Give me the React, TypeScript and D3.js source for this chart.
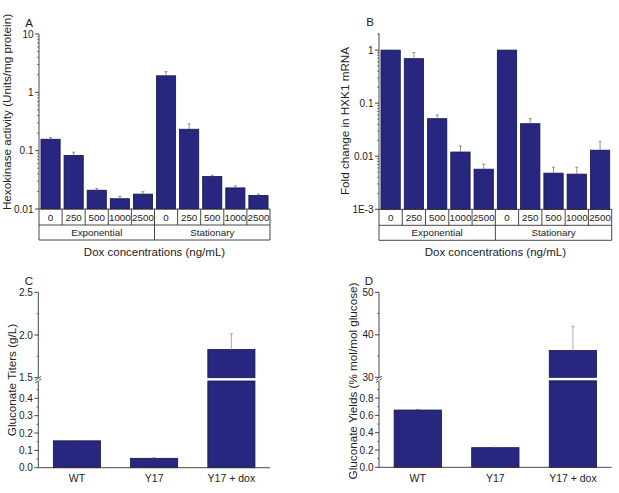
import React from "react";
import * as d3 from "d3";

// ---------- DATA ----------
const doxLabels = ["0", "250", "500", "1000", "2500"];
const phases = ["Exponential", "Stationary"];
const hexokinase = [0.157, 0.083, 0.021, 0.015, 0.018, 1.92, 0.233, 0.036, 0.023, 0.017];
const hexokinaseErrTop = [0.168, 0.094, 0.0225, 0.0165, 0.0198, 2.26, 0.287, 0.038, 0.025, 0.018];
const hxk1 = [1.0, 0.69, 0.051, 0.012, 0.0057, 1.0, 0.041, 0.0048, 0.0046, 0.013];
const hxk1ErrTop = [1.0, 0.9, 0.06, 0.0156, 0.0071, 1.0, 0.051, 0.0062, 0.0062, 0.0192];
const strains = ["WT", "Y17", "Y17 + dox"];
const titers = [0.155, 0.054, 1.83];
const titersErrTop = [0.157, 0.057, 2.015];
const yields = [0.662, 0.227, 36.3];
const yieldsErrTop = [0.668, 0.232, 42];
const aTicks = [0.01, 0.1, 1, 10];
const bTicks = [0.001, 0.01, 0.1, 1];
const cLowTicks = [0, 0.1, 0.2, 0.3, 0.4];
const cHighTicks = [1.5, 2.0, 2.5];
const dLowTicks = [0, 0.2, 0.4, 0.6, 0.8];
const dHighTicks = [30, 40, 50];

const FILL = "#27277f";
const STROKE = "#15154e";
const TXT = "#222";
const AX = "#333";
const FONT = "'Liberation Sans', Arial, sans-serif";

const cats = phases.flatMap((p) => doxLabels.map((d) => `${p}-${d}`));

function LogPanel({
  x0, x1, yTop, yBottom, domain, values, errs, ticks, tickFmt, label, letter, letterX, ylabX, ylabY,
}: any) {
  const y = d3.scaleLog().domain(domain).range([yBottom, yTop]);
  const x = d3.scaleBand().domain(cats).range([x0, x1]).paddingInner(0.17).paddingOuter(0.085);
  const xb = d3.scaleBand().domain(cats).range([x0, x1]);
  const minor: number[] = [];
  const lo = Math.floor(Math.log10(domain[0]));
  const hi = Math.ceil(Math.log10(domain[1]));
  for (let e = lo; e < hi; e++) {
    for (let m = 2; m <= 9; m++) {
      const v = m * Math.pow(10, e);
      if (v >= domain[0] && v <= domain[1]) minor.push(v);
    }
  }
  const row1 = yBottom;
  const row2 = yBottom + 16;
  const row3 = yBottom + 31;
  const mid = (x0 + x1) / 2;
  return (
    <g fontFamily={FONT} fill={TXT}>
      {cats.map((c, i) => (
        <g key={c}>
          <rect x={x(c)} y={y(values[i])} width={x.bandwidth()} height={yBottom - y(values[i])}
            fill={FILL} stroke={STROKE} strokeWidth={0.8} />
          {errs[i] > values[i] && (
            <g stroke="#666" strokeWidth={0.7}>
              <line x1={x(c)! + x.bandwidth() / 2} x2={x(c)! + x.bandwidth() / 2} y1={y(values[i])} y2={y(errs[i])} />
              <line x1={x(c)! + x.bandwidth() / 2 - 1.5} x2={x(c)! + x.bandwidth() / 2 + 1.5} y1={y(errs[i])} y2={y(errs[i])} />
            </g>
          )}
        </g>
      ))}
      {/* y axis */}
      <line x1={x0} x2={x0} y1={yTop} y2={yBottom} stroke={AX} strokeWidth={0.9} />
      {ticks.map((t: number) => (
        <g key={t}>
          <line x1={x0 - 4} x2={x0} y1={y(t)} y2={y(t)} stroke={AX} strokeWidth={0.9} />
          <text x={x0 - 5.5} y={y(t)} dy="0.35em" textAnchor="end" fontSize={10}>{tickFmt(t)}</text>
        </g>
      ))}
      {minor.map((t) => (
        <line key={t} x1={x0 - 2} x2={x0} y1={y(t)} y2={y(t)} stroke={AX} strokeWidth={0.6} />
      ))}
      {/* category table */}
      <g stroke={AX} strokeWidth={0.9} fill="none">
        <line x1={x0} x2={x1} y1={row1} y2={row1} />
        <line x1={x0} x2={x1} y1={row2} y2={row2} />
        <line x1={x0} x2={x1} y1={row3} y2={row3} />
        {cats.map((c) => (
          <line key={c} x1={xb(c)} x2={xb(c)} y1={row1} y2={row2} />
        ))}
        <line x1={x1} x2={x1} y1={row1} y2={row3} />
        <line x1={x0} x2={x0} y1={row2} y2={row3} />
        <line x1={mid} x2={mid} y1={row2} y2={row3} />
      </g>
      {cats.map((c, i) => (
        <text key={c} x={xb(c)! + xb.bandwidth() / 2} y={(row1 + row2) / 2} dy="0.36em"
          textAnchor="middle" fontSize={9.8}>{doxLabels[i % 5]}</text>
      ))}
      {phases.map((p, i) => (
        <text key={p} x={x0 + (x1 - x0) * (i * 2 + 1) / 4} y={(row2 + row3) / 2} dy="0.36em"
          textAnchor="middle" fontSize={9.8}>{p}</text>
      ))}
      <text x={mid} y={row3 + 12} dy="0.36em" textAnchor="middle" fontSize={11.5}>Dox concentrations (ng/mL)</text>
      <text transform={`translate(${ylabX},${ylabY}) rotate(-90)`} textAnchor="middle"
        dy="0.36em" fontSize={11.7}>{label}</text>
      <text x={letterX} y={yTop - 11.5} dy="0.36em" textAnchor="middle" fontSize={11.5}>{letter}</text>
    </g>
  );
}

function BreakPanel({
  x0, x1, yZero, lowTopY, highBotY, yTop, lowDomain, highDomain, lowTicks, highTicks, lowMinor, highMinor,
  values, errs, label, letter, letterX, ylabX, ylabY, fmtLow, fmtHigh,
}: any) {
  const yl = d3.scaleLinear().domain(lowDomain).range([yZero, lowTopY]);
  const yh = d3.scaleLinear().domain(highDomain).range([highBotY, yTop]);
  const x = d3.scaleBand().domain(strains).range([x0, x1]).paddingInner(0.39).paddingOuter(0.195);
  const xb = d3.scaleBand().domain(strains).range([x0, x1]);
  const lowMinorVals = d3.range(lowDomain[0] + lowMinor, lowDomain[1] + 1e-9, lowMinor * 2);
  const highMinorVals = d3.range(highDomain[0] + highMinor, highDomain[1], highMinor * 2);
  const breakY = (lowTopY + highBotY) / 2;
  return (
    <g fontFamily={FONT} fill={TXT}>
      {strains.map((s, i) => {
        const v = values[i];
        const bx = x(s)!;
        const bw = x.bandwidth();
        const cx = bx + bw / 2;
        if (v <= lowDomain[1]) {
          const ey = yl(errs[i]);
          return (
            <g key={s}>
              <rect x={bx} y={yl(v)} width={bw} height={yZero - yl(v)} fill={FILL} stroke={STROKE} strokeWidth={0.8} />
              {errs[i] > v && (
                <g stroke="#666" strokeWidth={0.7}>
                  <line x1={cx} x2={cx} y1={yl(v)} y2={ey} />
                  <line x1={cx - 1.5} x2={cx + 1.5} y1={ey} y2={ey} />
                </g>
              )}
            </g>
          );
        }
        const ey = yh(errs[i]);
        return (
          <g key={s}>
            <rect x={bx} y={lowTopY} width={bw} height={yZero - lowTopY} fill={FILL} stroke={STROKE} strokeWidth={0.8} />
            <rect x={bx} y={yh(v)} width={bw} height={highBotY - yh(v)} fill={FILL} stroke={STROKE} strokeWidth={0.8} />
            <g stroke="#888" strokeWidth={0.7}>
              <line x1={cx} x2={cx} y1={yh(v)} y2={ey} />
              <line x1={cx - 1.5} x2={cx + 1.5} y1={ey} y2={ey} />
            </g>
          </g>
        );
      })}
      {/* axes */}
      <g stroke={AX} strokeWidth={0.9}>
        <line x1={x0} x2={x0} y1={yZero} y2={lowTopY} />
        <line x1={x0} x2={x0} y1={highBotY} y2={yTop} />
        <line x1={x0} x2={x1} y1={yZero} y2={yZero} />
        <line x1={x0 - 3} x2={x0 + 3} y1={breakY + 1} y2={breakY - 3} />
        <line x1={x0 - 3} x2={x0 + 3} y1={breakY + 3.5} y2={breakY - 0.5} />
      </g>
      <rect x={x0 - 0.6} y={breakY - 0.7} width={1.2} height={2.4} fill="#fff" />
      {lowTicks.map((t: number) => (
        <g key={t}>
          <line x1={x0 - 4} x2={x0} y1={yl(t)} y2={yl(t)} stroke={AX} strokeWidth={0.9} />
          <text x={x0 - 5.5} y={yl(t)} dy="0.35em" textAnchor="end" fontSize={10}>{fmtLow(t)}</text>
        </g>
      ))}
      {highTicks.map((t: number) => (
        <g key={t}>
          <line x1={x0 - 4} x2={x0} y1={yh(t)} y2={yh(t)} stroke={AX} strokeWidth={0.9} />
          <text x={x0 - 5.5} y={yh(t)} dy="0.35em" textAnchor="end" fontSize={10}>{fmtHigh(t)}</text>
        </g>
      ))}
      {lowMinorVals.map((t: number) => (
        <line key={"l" + t} x1={x0 - 2} x2={x0} y1={yl(t)} y2={yl(t)} stroke={AX} strokeWidth={0.6} />
      ))}
      {highMinorVals.map((t: number) => (
        <line key={"h" + t} x1={x0 - 2} x2={x0} y1={yh(t)} y2={yh(t)} stroke={AX} strokeWidth={0.6} />
      ))}
      {strains.map((s) => (
        <text key={s} x={xb(s)! + xb.bandwidth() / 2} y={yZero + 11} dy="0.36em" textAnchor="middle" fontSize={10.5}>{s}</text>
      ))}
      <text transform={`translate(${ylabX},${ylabY}) rotate(-90)`} textAnchor="middle"
        dy="0.36em" fontSize={11.7}>{label}</text>
      <text x={letterX} y={yTop - 11.5} dy="0.36em" textAnchor="middle" fontSize={11.5}>{letter}</text>
    </g>
  );
}

export default function App() {
  return (
    <svg width={619} height={493} style={{ position: "absolute", left: 0, top: 0, background: "#fff" }}>
      <LogPanel x0={39} x1={270} yTop={34} yBottom={209} domain={[0.01, 10]}
        values={hexokinase} errs={hexokinaseErrTop} ticks={aTicks}
        tickFmt={(t: number) => String(t)} label="Hexokinase activity (Units/mg protein)"
        letter="A" letterX={29} ylabX={7} ylabY={112} />
      <LogPanel x0={379} x1={611.7} yTop={33} yBottom={209.3} domain={[0.001, 2.1]}
        values={hxk1} errs={hxk1ErrTop} ticks={bTicks}
        tickFmt={(t: number) => (t === 0.001 ? "1E-3" : String(t))} label="Fold change in HXK1 mRNA"
        letter="B" letterX={370} ylabX={345} ylabY={121} />
      <BreakPanel x0={38.3} x1={270} yZero={467.7} lowTopY={381} highBotY={377.7} yTop={292.3}
        lowDomain={[0, 0.5]} highDomain={[1.5, 2.5]} lowTicks={cLowTicks} highTicks={cHighTicks}
        lowMinor={0.05} highMinor={0.25} values={titers} errs={titersErrTop}
        fmtLow={(t: number) => t.toFixed(1)} fmtHigh={(t: number) => t.toFixed(1)}
        label="Gluconate Titers (g/L)" letter="C" letterX={29} ylabX={11.5} ylabY={380} />
      <BreakPanel x0={379} x1={611.7} yZero={467.3} lowTopY={380.8} highBotY={377.3} yTop={292.3}
        lowDomain={[0, 1.0]} highDomain={[30, 50]} lowTicks={dLowTicks} highTicks={dHighTicks}
        lowMinor={0.1} highMinor={5} values={yields} errs={yieldsErrTop}
        fmtLow={(t: number) => t.toFixed(1)} fmtHigh={(t: number) => String(t)}
        label="Gluconate Yields (% mol/mol glucose)" letter="D" letterX={369} ylabX={352.5} ylabY={381} />
    </svg>
  );
}
